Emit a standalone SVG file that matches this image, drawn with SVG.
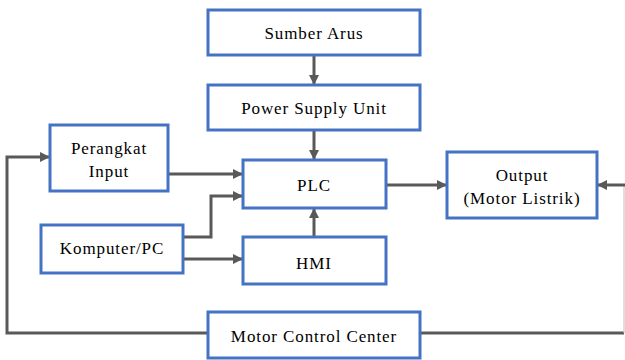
<svg xmlns="http://www.w3.org/2000/svg" width="625" height="360" viewBox="0 0 625 360">
<defs>
<style>
.box{fill:#fff;stroke:#4472C4;stroke-width:3}
.c{fill:none;stroke:#595959;stroke-width:3}
</style>
<marker id="ah" viewBox="0 0 10 10" refX="9" refY="5" markerWidth="3.4" markerHeight="3.4" orient="auto" markerUnits="strokeWidth">
<path d="M0,0 L10,5 L0,10 z" fill="#595959"/>
</marker>
</defs>
<rect width="625" height="360" fill="#fff"/>
<g id="connectors">
<path class="c" d="M314,55 V84" marker-end="url(#ah)"/>
<path class="c" d="M314,130 V159" marker-end="url(#ah)"/>
<path class="c" d="M314,237 V209" marker-end="url(#ah)"/>
<path class="c" d="M168,174 H242" marker-end="url(#ah)"/>
<path class="c" d="M183,237 H211 V196 H242" marker-end="url(#ah)"/>
<path class="c" d="M183,259 H242" marker-end="url(#ah)"/>
<path class="c" d="M386,185 H446" marker-end="url(#ah)"/>
<path class="c" d="M208,333 H7 V157 H49" marker-end="url(#ah)"/>
<path class="c" d="M420,333 H624"/>
<path d="M624,185 V333" fill="none" stroke="#c8c8c8" stroke-width="1.2"/>
<path class="c" d="M625,185 H598" marker-end="url(#ah)"/>
</g>
<g id="sumber-arus"><rect class="box" x="208" y="10" width="212" height="45"/><text x="314" y="39" style="font-family:'Times New Roman','Liberation Serif',serif" font-size="17" letter-spacing="0.9" text-anchor="middle">Sumber Arus</text></g>
<g id="psu"><rect class="box" x="208" y="85" width="212" height="45"/><text x="314" y="114" style="font-family:'Times New Roman','Liberation Serif',serif" font-size="17" letter-spacing="0.9" text-anchor="middle">Power Supply Unit</text></g>
<g id="perangkat-input"><rect class="box" x="50" y="125" width="118" height="66"/><text x="109" y="154" style="font-family:'Times New Roman','Liberation Serif',serif" font-size="17" letter-spacing="0.9" text-anchor="middle">Perangkat</text><text x="109" y="177" style="font-family:'Times New Roman','Liberation Serif',serif" font-size="17" letter-spacing="0.9" text-anchor="middle">Input</text></g>
<g id="plc"><rect class="box" x="243" y="160" width="143" height="48"/><text x="314" y="191" style="font-family:'Times New Roman','Liberation Serif',serif" font-size="17" letter-spacing="0.9" text-anchor="middle">PLC</text></g>
<g id="output"><rect class="box" x="447" y="152" width="150" height="66"/><text x="522" y="181" style="font-family:'Times New Roman','Liberation Serif',serif" font-size="17" letter-spacing="0.9" text-anchor="middle">Output</text><text x="522" y="204" style="font-family:'Times New Roman','Liberation Serif',serif" font-size="17" letter-spacing="0.9" text-anchor="middle">(Motor Listrik)</text></g>
<g id="komputer"><rect class="box" x="41" y="225" width="142" height="48"/><text x="112" y="254" style="font-family:'Times New Roman','Liberation Serif',serif" font-size="17" letter-spacing="0.9" text-anchor="middle">Komputer/PC</text></g>
<g id="hmi"><rect class="box" x="243" y="237" width="143" height="47"/><text x="314" y="269" style="font-family:'Times New Roman','Liberation Serif',serif" font-size="17" letter-spacing="0.9" text-anchor="middle">HMI</text></g>
<g id="mcc"><rect class="box" x="208" y="312" width="212" height="46"/><text x="314" y="342" style="font-family:'Times New Roman','Liberation Serif',serif" font-size="17" letter-spacing="0.9" text-anchor="middle">Motor Control Center</text></g>
</svg>
